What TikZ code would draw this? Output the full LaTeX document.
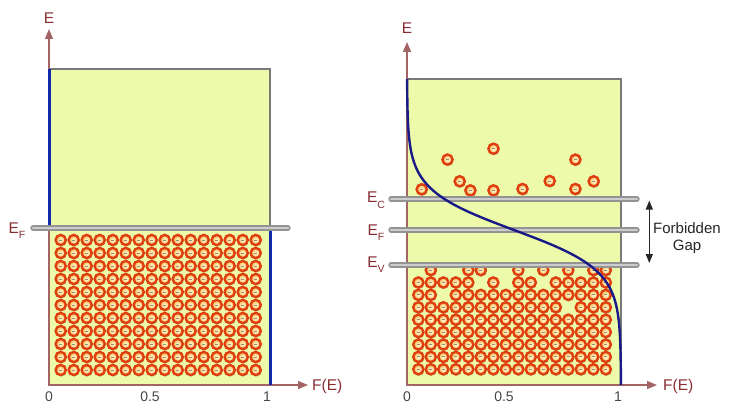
\documentclass[tikz,border=0pt]{standalone}
\usepackage{fontspec}
\setmainfont{Liberation Sans}
\usepackage{tikz}
\usetikzlibrary{arrows.meta, shadows}
\definecolor{boxfill}{RGB}{237,250,170}
\definecolor{axisred}{RGB}{165,100,100}
\definecolor{labelred}{RGB}{135,45,50}
\definecolor{stepblue}{RGB}{20,40,170}
\definecolor{curveblue}{RGB}{25,25,135}
\definecolor{ringred}{RGB}{222,62,16}
\definecolor{eleccore}{RGB}{255,250,215}
\definecolor{elecrim}{RGB}{246,185,80}
\definecolor{minusgray}{RGB}{150,140,120}
\definecolor{numgray}{RGB}{70,70,70}

\newcommand{\lsub}[1]{\raisebox{-5.5pt}{\fontsize{10.5}{10.5}\selectfont #1}}

\tikzset{
	panel/.style={fill=boxfill, draw=gray!95!black, line width=1.3pt},
	axis/.style={draw=axisred, line width=1.2pt, -{Triangle[length=10pt,width=8pt]}},
	level/.style={draw=gray!85, line width=1.6pt, double=gray!40, double distance=2.2pt, line cap=round},
	electron/.style={circle, minimum size=10.2pt, inner sep=0pt, line width=2.4pt, draw=ringred,
		inner color=eleccore, outer color=elecrim,
		drop shadow={shadow xshift=0.6pt, shadow yshift=-1.4pt, opacity=0.25, fill=black},
		path picture={\draw[minusgray, line width=0.9pt] ([xshift=-1.6pt]path picture bounding box.center) -- ([xshift=1.6pt]path picture bounding box.center);}},
	lbl/.style={text=labelred, font=\fontsize{15.5}{18}\selectfont, inner sep=0pt},
	numlabel/.style={text=numgray, font=\fontsize{14}{16}\selectfont, inner sep=0pt, anchor=base},
}

\begin{document}
\begin{tikzpicture}[x=1pt, y=-1pt]
	\useasboundingbox (0,0) rectangle (730,412);

	% panels
	\draw[panel] (49,69) rectangle (270,385);
	\draw[panel] (407,79) rectangle (621,385);

	% coordinate axes
	\coordinate (oL) at (49,385);
	\coordinate (eL) at (49,29);
	\coordinate (fL) at (308,385);
	\coordinate (oR) at (407,385);
	\coordinate (eR) at (407,42);
	\coordinate (fR) at (657,385);
	\draw[axis] (oL) -- (eL);
	\draw[axis] (oL) -- (fL);
	\draw[axis] (oR) -- (eR);
	\draw[axis] (oR) -- (fR);

	% metal: filled states below E_F
	\foreach \i in {0,...,15}
		\foreach \j in {0,...,10}
			\node[electron] (eL-\i-\j) at ({60.7+13*\i},{240+13*\j}) {};

	% semiconductor: valence band
	\foreach \i in {0,...,15}
		\foreach \j in {0,...,4}
			\node[electron] (eR-\i-\j) at ({418.3+12.5*\i},{369.3-12.4*\j}) {};
	\foreach \j/\row in {5/{0,1,2,3,4,5,6,7,8,9,10,11,13,14,15},
			6/{0,1,3,4,5,6,7,8,9,10,11,12,13,14,15},
			7/{0,1,2,3,4,6,8,9,11,12,13,14,15},
			8/{1,4,5,8,10,12,14,15}}
		\foreach \i in \row
			\node[electron] (eR-\i-\j) at ({418.3+12.5*\i},{369.3-12.4*\j}) {};

	% semiconductor: conduction band
	\foreach \x/\y [count=\k] in {421.7/189.3, 447.5/159.6, 459.7/181.3, 470.4/190.4,
			493.5/148.7, 493.5/190.4, 522.5/189, 549.7/181, 575.4/159.6, 575.4/189, 593.7/181.3}
		\node[electron] (eC-\k) at (\x,\y) {};

	% step function at T=0
	\draw[stepblue, line width=3pt] (49,69) -- (49,228) -- (270,228) -- (270,385);

	% energy levels
	\draw[level] (33,228) -- (288,228);
	\draw[level] (391,199) -- (637,199);
	\draw[level] (391,230) -- (637,230);
	\draw[level] (391,265) -- (637,265);

	% Fermi-Dirac curve
	\draw[curveblue, line width=2.4pt] plot[domain=79:385, samples=154, variable=\t]
		({407+214/(1+exp((230-\t)/20))},{\t});

	% forbidden gap
	\coordinate (gapTop) at (649.3,200.5);
	\coordinate (gapBot) at (649.3,263);
	\draw[black!85, line width=1.3pt, {Triangle[length=9pt,width=7pt]}-{Triangle[length=9pt,width=7pt]}] (gapTop) -- (gapBot);
	\node[anchor=base, font=\fontsize{15}{18}\selectfont, text=black!85, inner sep=0pt] (gapA) at (687,233.3) {Forbidden};
	\node[anchor=base, font=\fontsize{15}{18}\selectfont, text=black!85, inner sep=0pt] (gapB) at (687,250.7) {Gap};

	% labels
	\node[lbl, anchor=base] (ELbl) at (49,23.3) {E};
	\node[lbl, anchor=base] (ERbl) at (407,33.3) {E};
	\node[lbl, anchor=base west] (FLbl) at (312,390.7) {F(E)};
	\node[lbl, anchor=base west] (FRbl) at (663,390.7) {F(E)};
	\node[lbl, anchor=base] (EFL) at (17,233) {E\lsub{F}};
	\node[lbl, anchor=base] (ECR) at (376,202.7) {E\lsub{C}};
	\node[lbl, anchor=base] (EFR) at (376,235) {E\lsub{F}};
	\node[lbl, anchor=base] (EVR) at (376,267) {E\lsub{V}};

	\node[numlabel] (zeroL) at (49,401.7) {0};
	\node[numlabel] (halfL) at (150,401.7) {0.5};
	\node[numlabel] (oneL) at (267,401.7) {1};
	\node[numlabel] (zeroR) at (407,401.7) {0};
	\node[numlabel] (halfR) at (504,401.7) {0.5};
	\node[numlabel] (oneR) at (618,401.7) {1};
	%%%%%%%%%%%%%%%%%%%%%%%%%%%%%
\end{tikzpicture}
\end{document}
